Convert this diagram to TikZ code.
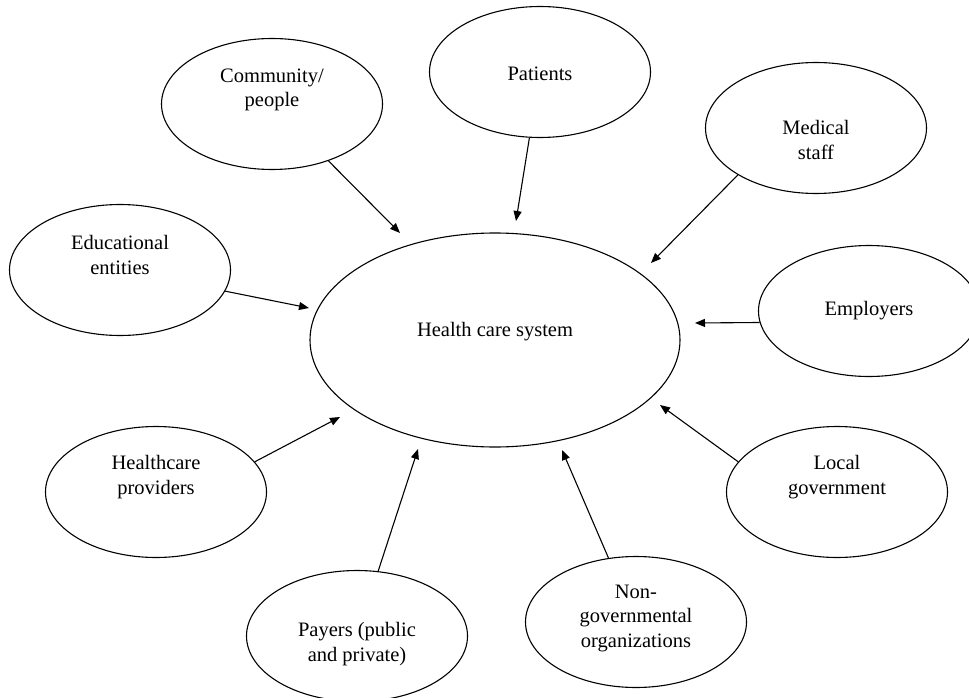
\documentclass[tikz,border=0pt]{standalone}
\usepackage{fontspec}
\setmainfont{Liberation Serif}
\usetikzlibrary{shapes.geometric,arrows.meta}

\tikzset{
  bubble/.style={draw, ellipse, line width=1.1pt, minimum width=221pt, minimum height=131pt, inner sep=0pt},
  every label/.style={align=center, font=\fontsize{20.5}{24.5}\selectfont},
  arr/.style={-{Triangle[length=10pt,width=8pt]}, line width=1.1pt}
}

\begin{document}
\begin{tikzpicture}[x=1pt,y=-1pt]
  \useasboundingbox (0,0) rectangle (969,698);

  \node[bubble, minimum width=370pt, minimum height=214pt,
    label={[yshift=8pt]center:{Health care system}}] (hcs) at (495,340) {};

  \node[bubble, label={[yshift=14pt]center:{Community/\\people}}] (comm) at (272,104) {};
  \node[bubble, label={[yshift=-2pt]center:{Patients}}] (pat) at (540,72) {};
  \node[bubble, label={[yshift=-12pt]center:{Medical\\staff}}] (med) at (816,128) {};
  \node[bubble, label={[yshift=15pt]center:{Educational\\entities}}] (edu) at (120,270) {};
  \node[bubble, label={[yshift=0pt]center:{Employers}}] (emp) at (869,311) {};
  \node[bubble, label={[yshift=15pt]center:{Healthcare\\providers}}] (prov) at (156,492) {};
  \node[bubble, label={[yshift=15pt]center:{Local\\government}}] (loc) at (837,492) {};
  \node[bubble, label={[yshift=4pt]center:{Non-\\governmental\\organizations}}] (ngo) at (636,622) {};
  \node[bubble, label={[yshift=-8pt]center:{Payers (public\\and private)}}] (pay) at (357,636) {};

  % arrow tips stop short of the big ellipse
  \coordinate (t1) at (400,233);
  \coordinate (t2) at (309,308);
  \coordinate (t3) at (516,221);
  \coordinate (t4) at (651,263);
  \coordinate (t5) at (695,323);
  \coordinate (t6) at (340,417);
  \coordinate (t7) at (418,449);
  \coordinate (t8) at (562,450);
  \coordinate (t9) at (660,405);

  \path (comm) [arr] edge (t1);
  \path (edu) [arr] edge (t2);
  \path (pat) [arr] edge (t3);
  \path (med.211) [arr] edge (t4);
  \path (emp.186) [arr] edge (t5);
  \path (prov.17) [arr] edge (t6);
  \path (pay) [arr] edge (t7);
  \path (ngo) [arr] edge (t8);
  \path (loc.163) [arr] edge (t9);
\end{tikzpicture}
\end{document}
